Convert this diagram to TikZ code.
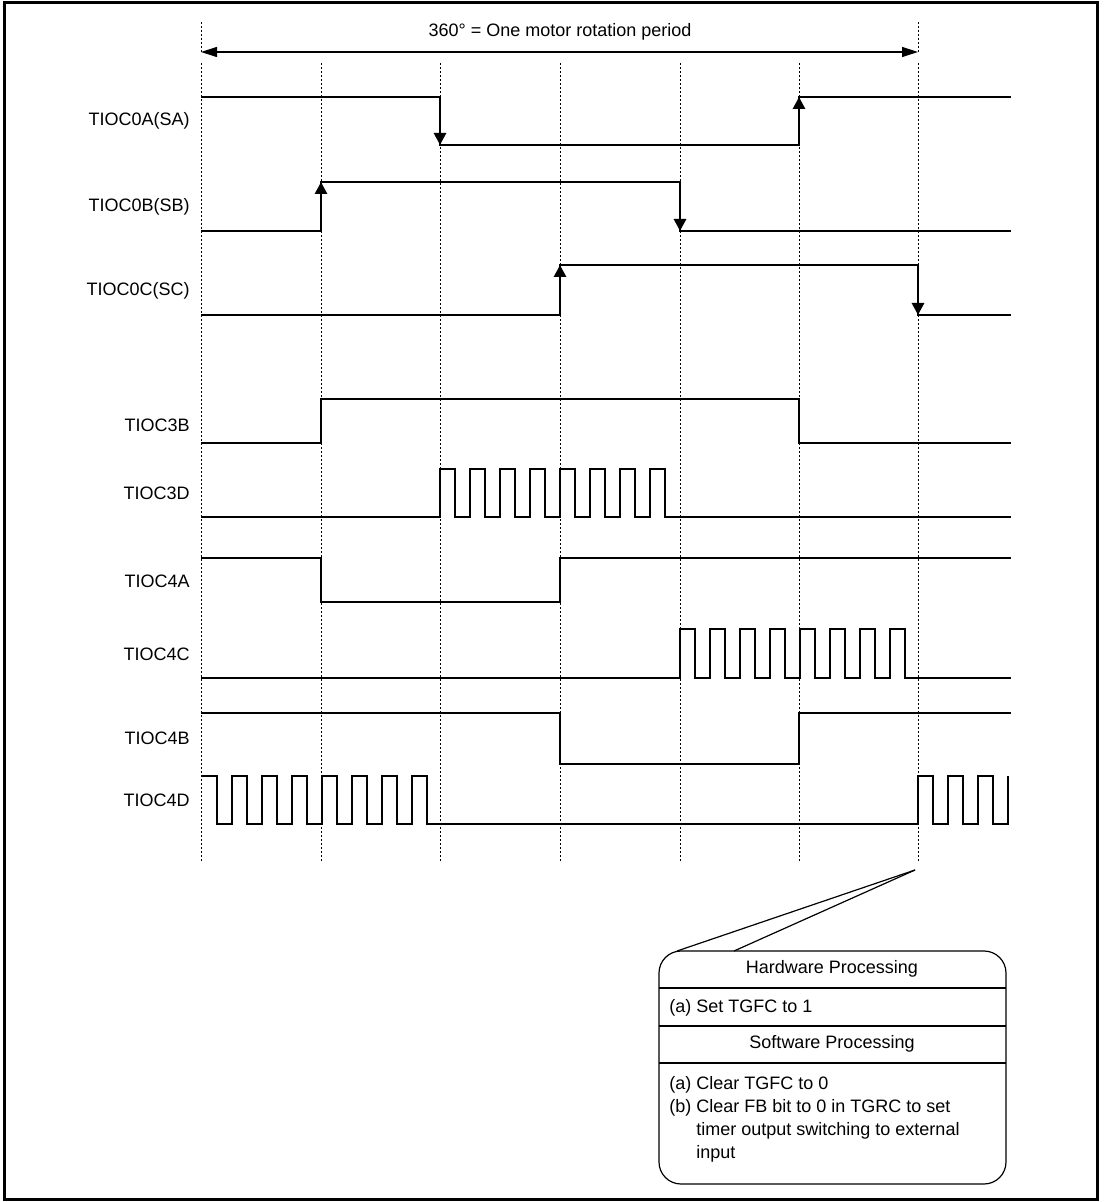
\documentclass[tikz,border=0pt]{standalone}
\usepackage{fontspec}
\setmainfont{Liberation Sans}
\usetikzlibrary{arrows.meta}

\begin{document}
\begin{tikzpicture}[x=0.5pt, y=-0.5pt, font=\fontsize{9}{11.5}\selectfont,
    >={Triangle[length=6pt,width=6pt]},
    grid/.style={line width=0.5pt, dash pattern=on 1pt off 1pt},
    sig/.style={line width=1.4pt, line join=miter},
    lbl/.style={anchor=east, inner sep=0pt},
    thinline/.style={line width=0.6pt}]
  \useasboundingbox (0,0) rectangle (1103,1202);
  % frame
  \draw[line width=1.5pt] (4,3) rectangle (1097,1199);
  % time marks
  \foreach \x/\n in {201/0, 321/1, 440/2, 560/3, 680/4, 799/5, 918/6}{
     \coordinate (t\n) at (\x,52);
     \draw[grid] (\x,63) -- (\x,862);
  }
  \draw[grid] (t0) -- ++(0,-32);
  \draw[grid] (t6) -- ++(0,-32);
  % one rotation
  \draw[{Triangle[length=8pt,width=5pt]}-{Triangle[length=8pt,width=5pt]}, thinline] (t0) -- (t6);
  \node (period) at (560,32) {360° = One motor rotation period};
  % signal names
  \foreach \n/\y/\t in {sa/121/TIOC0A(SA), sb/207/TIOC0B(SB), sc/291/TIOC0C(SC),
      ob/425/TIOC3B, od/493/TIOC3D, fa/581/TIOC4A, fc/654/TIOC4C,
      fb/738/TIOC4B, fd/800/TIOC4D}
     \node[lbl] (\n) at (190,\y) {\t};
  % hall sensor inputs
  \draw[sig] (201,97) -- (440,97) -- (440,145) -- (799,145) -- (799,97) -- (1011,97);
  \draw[sig] (201,231) -- (321,231) -- (321,182) -- (680,182) -- (680,231) -- (1011,231);
  \draw[sig] (201,315) -- (560,315) -- (560,265) -- (918,265) -- (918,315) -- (1011,315);
  \foreach \x/\ya/\yb in {440/97/145, 799/145/97, 321/231/182, 680/182/231, 560/315/265, 918/265/315}
     \draw[sig,->] (\x,\ya) -- (\x,\yb);
  % timer outputs
  \draw[sig] (201,443) -- (321,443) -- (321,399) -- (799,399) -- (799,443) -- (1011,443);
  \draw[sig] (201,517) -- (440,517)
     \foreach \k in {1,...,8}{ -- ++(0,-48) -- ++(15,0) -- ++(0,48) -- ++(15,0)} -- (1011,517);
  \draw[sig] (201,558) -- (321,558) -- (321,602) -- (560,602) -- (560,558) -- (1011,558);
  \draw[sig] (201,678) -- (680,678)
     \foreach \k in {1,...,8}{ -- ++(0,-49) -- ++(15,0) -- ++(0,49) -- ++(15,0)} -- (1011,678);
  \draw[sig] (201,713) -- (560,713) -- (560,764) -- (799,764) -- (799,713) -- (1011,713);
  \draw[sig] (202,776)
     \foreach \k in {1,...,7}{ -- ++(15,0) -- ++(0,48) -- ++(15,0) -- ++(0,-48)}
     -- ++(15,0) -- ++(0,48) -- (918,824)
     \foreach \k in {1,2,3}{ -- ++(0,-48) -- ++(15,0) -- ++(0,48) -- ++(15,0)} -- ++(0,-48);
  % callout
  \coordinate (apex) at (915,870);
  \coordinate (c1) at (677,951);
  \coordinate (c2) at (734,951);
  \draw[thinline] (apex) -- (c1);
  \draw[thinline] (apex) -- (c2);
  \draw[thinline, rounded corners=11pt] (659,951) rectangle (1006,1184);
  \foreach \y in {988,1026,1063}
     \draw[thinline] (659,\y) -- (1006,\y);
  \node (hw) at (832,969) {Hardware Processing};
  \node[anchor=west, inner sep=0pt] (hwa) at (669,1008) {(a) Set TGFC to 1};
  \node (sw) at (832,1044) {Software Processing};
  \node[anchor=north west, align=left, inner sep=0pt] (swa) at (669,1076)
     {(a) Clear TGFC to 0\\(b) Clear FB bit to 0 in TGRC to set\\
      \hphantom{(b) }timer output switching to external\\\hphantom{(b) }input};
\end{tikzpicture}
\end{document}
